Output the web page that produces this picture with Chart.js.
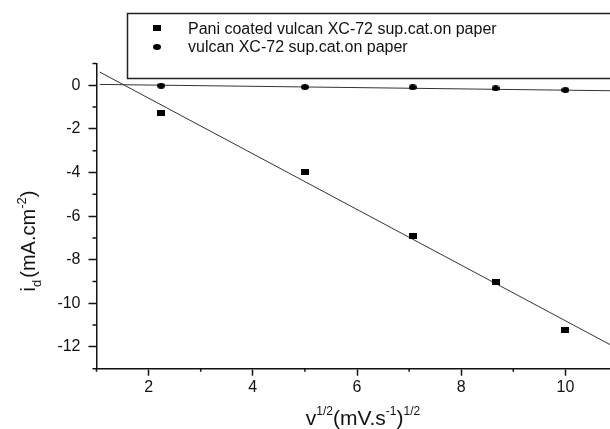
<!DOCTYPE html>
<html>
<head>
<meta charset="utf-8">
<script src="https://cdn.jsdelivr.net/npm/chart.js@4.4.0/dist/chart.umd.min.js"></script>
<style>
  html, body { margin: 0; padding: 0; overflow: hidden; background: #fff; }
  #wrap { width: 630px; height: 429px; }
</style>
</head>
<body>
<div id="wrap"><canvas id="chart" width="630" height="429"></canvas></div>
<script>
'use strict';

/* ── data ── */
const xValues      = [2.24, 5.0, 7.07, 8.66, 10.0];
const paniValues   = [-1.26, -3.99, -6.91, -9.03, -11.21];
const vulcanValues = [-0.02, -0.08, -0.09, -0.14, -0.22];
const fitX         = [1.06, 10.9];
const paniFit      = [0.61, -11.95];
const vulcanFit    = [0.04, -0.25];
const xTicks       = [2, 4, 6, 8, 10];
const yTicks       = [-12, -10, -8, -6, -4, -2, 0];
const xMinor       = [1, 3, 5, 7, 9, 11];
const yMinor       = [-13, -11, -9, -7, -5, -3, -1, 1];
const seriesNames  = ['Pani coated vulcan XC-72 sup.cat.on paper', 'vulcan XC-72 sup.cat.on paper'];

const FONT = '"Liberation Sans", Arial, Helvetica, sans-serif';
const INK  = '#111';

/* small 8x6 markers, a bit wider than tall like the scan */
function marker(shape) {
  const c = document.createElement('canvas');
  c.width = 8; c.height = 6;
  const g = c.getContext('2d');
  g.fillStyle = '#000';
  if (shape === 'rect') g.fillRect(0, 0, 8, 6);
  else { g.beginPath(); g.ellipse(4, 3, 4, 3, 0, 0, Math.PI * 2); g.fill(); }
  return c;
}
const sqMark  = marker('rect');
const dotMark = marker('ellipse');

const pairs = (xs, ys) => xs.map((x, i) => ({ x, y: ys[i] }));

/* draw a run of text pieces (for sub/superscripts) */
function drawRun(ctx, parts, x, y) {
  parts.forEach(p => {
    ctx.font = p.s + 'px ' + FONT;
    ctx.fillText(p.t, x, y + (p.dy || 0));
    x += ctx.measureText(p.t).width + (p.gap || 0);
  });
}
function runWidth(ctx, parts) {
  let w = 0;
  parts.forEach(p => { ctx.font = p.s + 'px ' + FONT; w += ctx.measureText(p.t).width + (p.gap || 0); });
  return w;
}

/* ───────── plugins ───────── */
const minorTicks = {
  id: 'minorTicks',
  afterDraw(chart) {
    const { ctx, chartArea: a, scales: { x, y } } = chart;
    ctx.save();
    ctx.strokeStyle = INK;
    ctx.lineWidth = 1.5;
    ctx.beginPath();
    xMinor.forEach(v => {
      const px = x.getPixelForValue(v);
      ctx.moveTo(px, a.bottom); ctx.lineTo(px, a.bottom + 3);
    });
    yMinor.forEach(v => {
      const py = y.getPixelForValue(v);
      ctx.moveTo(a.left - 4, py); ctx.lineTo(a.left, py);
    });
    ctx.stroke();
    ctx.restore();
  }
};

const legendBox = {
  id: 'legendBox',
  afterDraw(chart) {
    const ctx = chart.ctx;
    ctx.save();
    ctx.strokeStyle = '#222';
    ctx.lineWidth = 1.5;
    ctx.strokeRect(127.5, 13.5, 620, 65);
    ctx.drawImage(sqMark, 153, 25);
    ctx.drawImage(dotMark, 153, 44);
    ctx.fillStyle = INK;
    ctx.font = '16px ' + FONT;
    ctx.textBaseline = 'alphabetic';
    ctx.fillText(seriesNames[0], 188, 33.5);
    ctx.fillText(seriesNames[1], 188, 51.5);
    ctx.restore();
  }
};

const axisTitles = {
  id: 'axisTitles',
  afterDraw(chart) {
    const { ctx, chartArea: a } = chart;
    ctx.save();
    ctx.fillStyle = INK;
    ctx.textBaseline = 'alphabetic';
    ctx.textAlign = 'left';

    const xt = [
      { t: 'v', s: 21 }, { t: '1/2', s: 12, dy: -10 },
      { t: '(mV.s', s: 21 }, { t: '-1', s: 12, dy: -10 },
      { t: ')', s: 21 }, { t: '1/2', s: 12, dy: -10 }
    ];
    const xw = runWidth(ctx, xt);
    drawRun(ctx, xt, (a.left + a.right) / 2 + 6 - xw / 2, 425);

    const yt = [
      { t: 'i', s: 20 }, { t: 'd', s: 13, dy: 6, gap: 2 },
      { t: '(mA.cm', s: 20 }, { t: '-2', s: 13, dy: -9 },
      { t: ')', s: 20 }
    ];
    const yw = runWidth(ctx, yt);
    ctx.translate(35, 241 + yw / 2);
    ctx.rotate(-Math.PI / 2);
    drawRun(ctx, yt, 0, 0);
    ctx.restore();
  }
};

/* ───────── chart ───────── */
new Chart(document.getElementById('chart'), {
  type: 'scatter',
  data: {
    datasets: [
      { label: seriesNames[0], data: pairs(xValues, paniValues),
        pointStyle: sqMark, pointRadius: 4, order: 1 },
      { label: seriesNames[1], data: pairs(xValues, vulcanValues),
        pointStyle: dotMark, pointRadius: 4, order: 1 },
      { label: 'fit pani', data: pairs(fitX, paniFit), showLine: true,
        pointRadius: 0, borderColor: '#333', borderWidth: 1, order: 2 },
      { label: 'fit vulcan', data: pairs(fitX, vulcanFit), showLine: true,
        pointRadius: 0, borderColor: '#333', borderWidth: 1, order: 2 }
    ]
  },
  options: {
    responsive: false,
    animation: false,
    devicePixelRatio: 1,
    layout: { padding: { left: 0, top: 63.5, right: 12.5, bottom: 0 } },
    plugins: { legend: { display: false }, tooltip: { enabled: false } },
    scales: {
      x: {
        type: 'linear', min: 1, max: 11,
        afterBuildTicks: s => { s.ticks = xTicks.map(v => ({ value: v })); },
        afterFit: s => { s.height = 60.3; },
        grid: { drawOnChartArea: false, tickLength: 7, tickColor: INK, tickWidth: 1.5 },
        border: { color: INK, width: 1.5 },
        ticks: { color: INK, font: { family: FONT, size: 16 }, padding: 2, maxRotation: 0, autoSkip: false }
      },
      y: {
        type: 'linear', min: -13, max: 1,
        afterBuildTicks: s => { s.ticks = yTicks.map(v => ({ value: v })); },
        afterFit: s => { s.width = 96.5; },
        grid: { drawOnChartArea: false, tickLength: 8, tickColor: INK, tickWidth: 1.5 },
        border: { color: INK, width: 1.5 },
        ticks: { color: INK, font: { family: FONT, size: 16 }, padding: 8, autoSkip: false }
      }
    }
  },
  plugins: [minorTicks, legendBox, axisTitles]
});
</script>
</body>
</html>
